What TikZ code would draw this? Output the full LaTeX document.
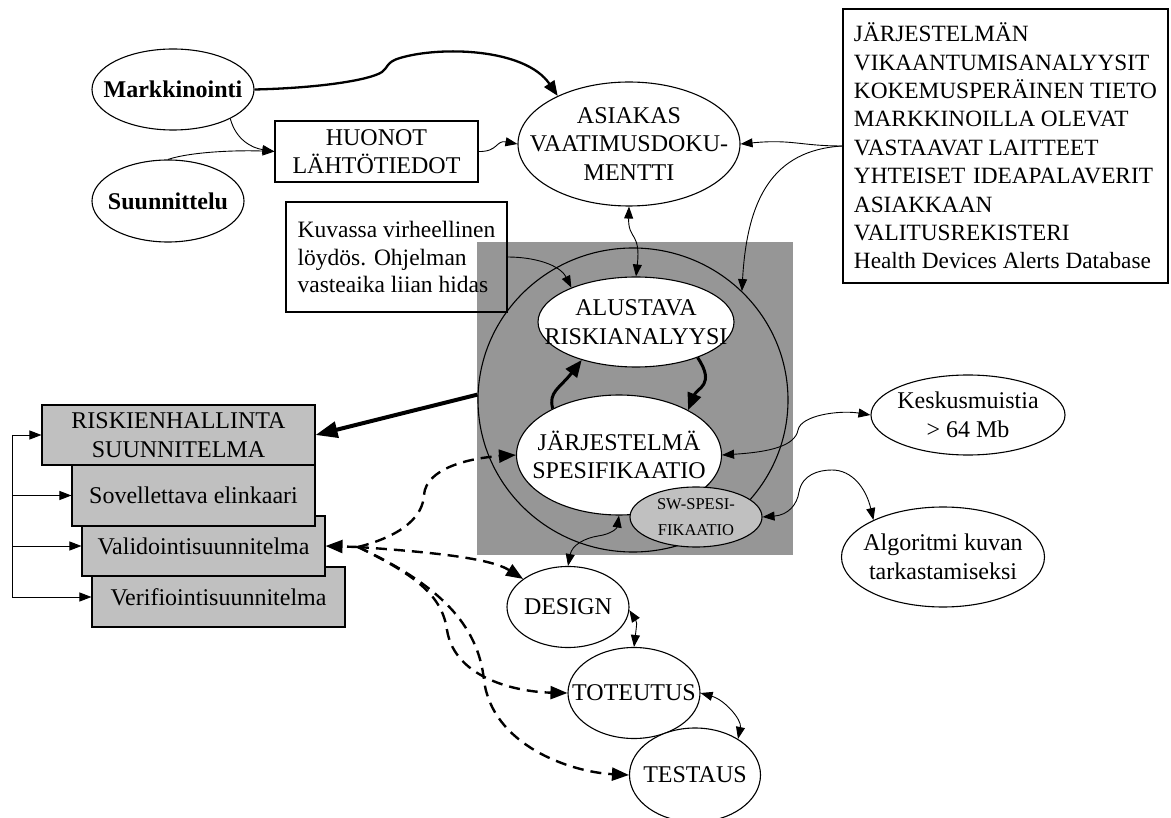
\documentclass[tikz,border=0pt]{standalone}
\usepackage{fontspec}
\setmainfont{Liberation Serif}
\usetikzlibrary{shapes.geometric,arrows.meta}
\definecolor{midgray}{RGB}{150,150,150}
\definecolor{boxgray}{RGB}{192,192,192}

\begin{document}
\begin{tikzpicture}[x=1pt, y=-1pt,
    every node/.style={font=\fontsize{24}{28.5}\selectfont},
    ell/.style={ellipse, draw, line width=1.1pt, inner sep=0pt, fill=white},
    lbl/.style={align=center},
    box/.style={draw, line width=1.1pt, align=center, inner sep=2pt},
    gbox/.style={box, fill=boxgray},
    arr/.style={line width=0.9pt, -{Triangle[length=12pt,width=9pt]}},
    dbl/.style={line width=0.9pt, {Triangle[length=12pt,width=9pt]}-{Triangle[length=12pt,width=9pt]}},
    bold/.style={line width=3pt, -{Triangle[length=17pt,width=14pt]}},
    dsh/.style={line width=2.4pt, dash pattern=on 11pt off 7pt, -{Triangle[length=17pt,width=13pt]}}]
    \useasboundingbox (0,0) rectangle (1171,818);

    \fill[midgray] (477,242) rectangle (793,555);
    \node[ell, fill=none, minimum width=310pt, minimum height=304pt] (outer) at (633,400) {};
    \node[ell, minimum width=196pt, minimum height=90pt, label={[lbl]center:ALUSTAVA\\RISKIANALYYSI}] (alustava) at (636,322) {};
    \node[ell, minimum width=205pt, minimum height=120pt, label={[lbl]center:JÄRJESTELMÄ\\SPESIFIKAATIO}] (jarj) at (619,455) {};
    \node[ell, fill=boxgray, minimum width=132pt, minimum height=60pt, label={[lbl, font=\fontsize{16.5}{26.5}\selectfont]center:SW-SPESI-\\FIKAATIO}] (sw) at (696,517) {};

    \node[ell, minimum width=162pt, minimum height=81pt, label={center:\bfseries Markkinointi}] (mark) at (173,89.5) {};
    \node[ell, minimum width=152pt, minimum height=82pt, label={center:\bfseries Suunnittelu}] (suun) at (168,201) {};
    \node[box, minimum width=203pt, minimum height=61pt] (huonot) at (376.5,151.5) {HUONOT\\LÄHTÖTIEDOT};
    \node[ell, minimum width=222pt, minimum height=124pt, label={[lbl]center:ASIAKAS\\VAATIMUSDOKU-\\MENTTI}] (asiakas) at (629,144) {};
    \node[draw, line width=1.1pt, minimum width=325pt, minimum height=274pt, inner xsep=0pt, inner ysep=0pt, align=left, font=\fontsize{23.3}{28.4}\selectfont] (info) at (1005.5,146) {JÄRJESTELMÄN\\VIKAANTUMISANALYYSIT\\KOKEMUSPERÄINEN TIETO\\MARKKINOILLA OLEVAT\\VASTAAVAT LAITTEET\\YHTEISET\hspace{2pt} IDEAPALAVERIT\\ASIAKKAAN\\VALITUSREKISTERI\\Health Devices Alerts Database};
    \node[box, minimum width=221pt, minimum height=110pt, align=left, font=\fontsize{23.5}{27.5}\selectfont] (kuva) at (396.5,257) {Kuvassa virheellinen\\löydös. Ohjelman\\vasteaika liian hidas};

    \node[ell, minimum width=194pt, minimum height=80pt, label={[lbl]center:Keskusmuistia\\> 64 Mb}] (kesk) at (968,415) {};
    \node[ell, minimum width=203pt, minimum height=100pt, label={[lbl]center:Algoritmi kuvan\\tarkastamiseksi}] (algo) at (943,557) {};
    \node[ell, minimum width=122pt, minimum height=81pt, label={center:DESIGN}] (design) at (568,607) {};
    \node[ell, minimum width=132pt, minimum height=91pt, label={center:TOTEUTUS}] (toteutus) at (634,693) {};
    \node[ell, minimum width=131pt, minimum height=94pt, label={center:TESTAUS}] (testaus) at (695,775) {};

    \node[gbox, minimum width=253pt, minimum height=60pt] (ver) at (218.5,597) {Verifiointisuunnitelma};
    \node[gbox, minimum width=243pt, minimum height=60pt] (val) at (203.5,546) {Validointisuunnitelma};
    \node[gbox, minimum width=243pt, minimum height=61pt] (sov) at (193.5,495.5) {Sovellettava elinkaari};
    \node[gbox, minimum width=273pt, minimum height=60pt] (riski) at (178.5,435) {RISKIENHALLINTA\\SUUNNITELMA};

    \draw[line width=2.3pt, -{Triangle[length=15pt,width=12pt]}] (mark.east) .. controls (320,88) and (370,80) .. (382,72)
        .. controls (388,68) and (386,62) .. (400,58) .. controls (440,46) and (525,48) .. (asiakas.146);
    \draw[arr] (mark.-27) .. controls (236,140) and (252,148) .. (huonot.west);
    \draw[arr] (suun.north) .. controls (190,152) and (235,150) .. (huonot.west);
    \draw[arr] (huonot.east) .. controls (498,152) and (496,140) .. (asiakas.west);
    \draw[arr] (info.west) .. controls (800,146) and (792,139) .. (asiakas.east);
    \draw[arr] (info.west) .. controls (772,150) and (747,200) .. (outer.45);
    \draw[dbl] (asiakas.south) .. controls (628,240) and (641,232) .. (alustava.north);
    \draw[arr] (kuva.east) .. controls (535,257) and (560,265) .. (alustava.152);

    \draw[bold] (alustava.-30) .. controls (716,385) and (697,388) .. (jarj.33);
    \draw[bold] (jarj.145) .. controls (548,392) and (560,388) .. (alustava.-145);
    \draw[line width=4pt, -{Triangle[length=22pt,width=16pt]}] (outer.178) -- (riski.east);

    \coordinate (vhub) at (358,547);
    \draw[dsh] (vhub) -- (val.east);
    \draw[dsh] (vhub) .. controls (405,535) and (423,515) .. (424,495) .. controls (426,468) and (470,458) .. (jarj.west);
    \draw[dsh] (vhub) .. controls (430,552) and (490,558) .. (design.148);
    \draw[dsh] (vhub) .. controls (415,575) and (442,595) .. (447,630) .. controls (455,680) and (520,692) .. (toteutus.west);
    \draw[dsh] (vhub) .. controls (440,585) and (478,625) .. (484,680) .. controls (492,745) and (570,772) .. (testaus.west);

    \draw[dbl] (design.north) .. controls (572,545) and (585,538) .. (598,536) .. controls (612,534) and (617,528) .. (jarj.south);
    \draw[dbl] (design.-3) .. controls (637,622) .. (toteutus.north);
    \draw[dbl] (toteutus.east) .. controls (725,700) and (742,720) .. (testaus.40);
    \draw[dbl] (jarj.east) .. controls (770,452) and (795,446) .. (798,430) .. controls (801,415) and (840,410) .. (kesk.west);
    \draw[dbl] (sw.east) .. controls (788,515) and (797,505) .. (799,492) .. controls (802,475) and (818,470) .. (832,470)
        .. controls (852,470) and (866,488) .. (algo.152);

    \coordinate (brk) at (12,0);
    \draw[line width=0.9pt] (brk |- riski.west) -- (brk |- ver.west);
    \foreach \b in {riski,sov,val,ver}
        \draw[arr] (brk |- \b.west) -- (\b.west);
\end{tikzpicture}
\end{document}
